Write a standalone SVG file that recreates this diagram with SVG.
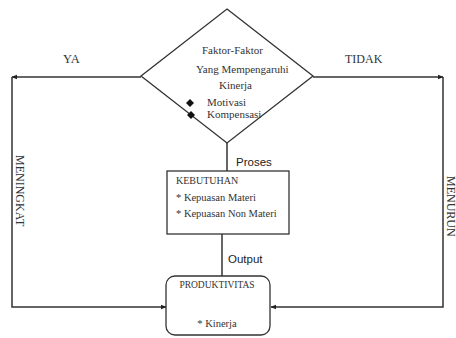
<svg xmlns="http://www.w3.org/2000/svg" width="456" height="338" viewBox="0 0 456 338">
<defs>
<style>
.ln{fill:none;stroke:#333;stroke-width:1.5}
.bx{fill:#fff;stroke:#333;stroke-width:1.3}
.t{font-family:"Liberation Serif","Times New Roman",serif;fill:#333}
.s{font-family:"Liberation Sans",Arial,sans-serif;fill:#222}
</style>
<marker id="ah" viewBox="0 0 10 10" refX="9" refY="5" markerWidth="6" markerHeight="6" orient="auto" markerUnits="userSpaceOnUse">
<path d="M0,1 L10,5 L0,9 Z" fill="#222"/>
</marker>
</defs>
<rect width="456" height="338" fill="#fff"/>
<g id="connectors">
<polyline class="ln" points="141,77 12,77" marker-end="url(#ah)"/>
<polyline class="ln" points="12,77 12,307 166,307" marker-end="url(#ah)"/>
<polyline class="ln" points="313,77 443,77" marker-end="url(#ah)"/>
<polyline class="ln" points="443,77 443,307 271,307" marker-end="url(#ah)"/>
<line class="ln" x1="227" y1="143" x2="227" y2="171"/>
<line class="ln" x1="222" y1="234" x2="222" y2="276"/>
<text class="t" x="63" y="63" font-size="12.5">YA</text>
<text class="t" x="345" y="63" font-size="12">TIDAK</text>
<text class="t" font-size="12" transform="translate(16,155) rotate(90)">MENINGKAT</text>
<text class="t" font-size="12" transform="translate(446.5,176) rotate(90)">MENURUN</text>
<text class="s" x="236" y="166" font-size="11.5">Proses</text>
<text class="s" x="228" y="263" font-size="11.5">Output</text>
</g>
<g id="faktor">
<polygon class="bx" points="227,9 313,76 227,143 141,76"/>
<text class="t" x="202" y="54" font-size="11">Faktor-Faktor</text>
<text class="t" x="196" y="73" font-size="11">Yang Mempengaruhi</text>
<text class="t" x="219" y="89" font-size="11">Kinerja</text>
<polygon points="190,99 194,103 190,107 186,103" fill="#111"/>
<polygon points="191,111 195,115 191,119 187,115" fill="#111"/>
<text class="t" x="207" y="106" font-size="11">Motivasi</text>
<text class="t" x="207" y="118" font-size="11">Kompensasi</text>
</g>
<g id="kebutuhan">
<rect class="bx" x="167" y="171" width="122" height="63"/>
<text class="t" x="176" y="184" font-size="10">KEBUTUHAN</text>
<text class="t" x="176" y="201" font-size="10.5">* Kepuasan Materi</text>
<text class="t" x="176" y="217" font-size="10.5">* Kepuasan Non Materi</text>
</g>
<g id="produktivitas">
<rect class="bx" x="166" y="276" width="104" height="59" rx="9"/>
<text class="t" x="217" y="288" font-size="9.5" text-anchor="middle">PRODUKTIVITAS</text>
<text class="t" x="217" y="327" font-size="10.5" text-anchor="middle">* Kinerja</text>
</g>
</svg>
